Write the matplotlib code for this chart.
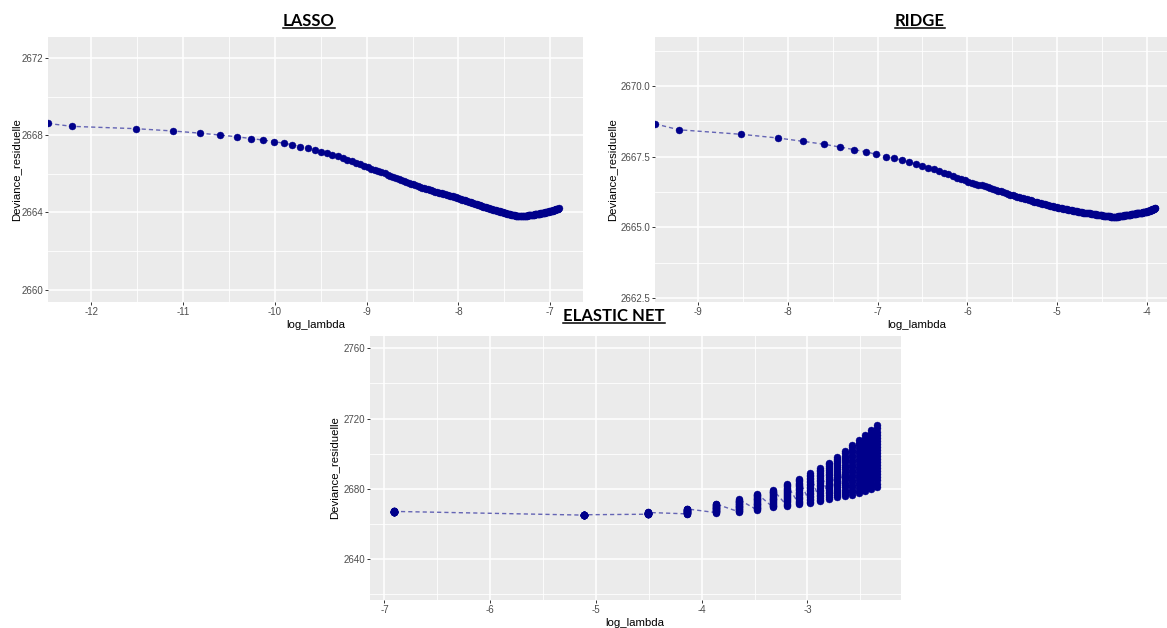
import numpy as np
import matplotlib.pyplot as plt
from matplotlib.lines import Line2D
from matplotlib.ticker import FixedLocator, FuncFormatter

# lambda grids of the three fits (first lasso/ridge value is lambda = 0 -> log = -Inf)
lasso_lambda = np.linspace(0, 0.001, 201)
ridge_lambda = np.linspace(0, 0.02, 201)
enet_lambda = [0.001, 0.006, 0.011, 0.016, 0.021, 0.026, 0.031, 0.036, 0.041, 0.046,
               0.051, 0.056, 0.061, 0.066, 0.071, 0.076, 0.081, 0.086, 0.091, 0.096]

lasso_dev = [
    2668.61, 2668.46, 2668.34, 2668.22, 2668.11, 2668.01, 2667.92, 2667.83, 2667.75, 2667.67,
    2667.59, 2667.50, 2667.41, 2667.32, 2667.23, 2667.14, 2667.06, 2666.98, 2666.90, 2666.82,
    2666.74, 2666.66, 2666.58, 2666.50, 2666.42, 2666.34, 2666.27, 2666.20, 2666.14, 2666.08,
    2666.02, 2665.96, 2665.90, 2665.84, 2665.79, 2665.74, 2665.69, 2665.64, 2665.59, 2665.54,
    2665.49, 2665.45, 2665.41, 2665.37, 2665.33, 2665.29, 2665.26, 2665.23, 2665.20, 2665.17,
    2665.14, 2665.11, 2665.08, 2665.06, 2665.03, 2665.01, 2664.99, 2664.96, 2664.94, 2664.92,
    2664.89, 2664.87, 2664.85, 2664.83, 2664.80, 2664.78, 2664.76, 2664.73, 2664.71, 2664.69,
    2664.67, 2664.65, 2664.62, 2664.60, 2664.58, 2664.56, 2664.54, 2664.52, 2664.50, 2664.48,
    2664.46, 2664.44, 2664.42, 2664.40, 2664.38, 2664.36, 2664.34, 2664.32, 2664.30, 2664.29,
    2664.27, 2664.26, 2664.24, 2664.23, 2664.21, 2664.20, 2664.18, 2664.17, 2664.15, 2664.14,
    2664.12, 2664.11, 2664.09, 2664.08, 2664.07, 2664.05, 2664.04, 2664.03, 2664.01, 2664.00,
    2663.99, 2663.98, 2663.96, 2663.95, 2663.94, 2663.93, 2663.92, 2663.91, 2663.90, 2663.89,
    2663.88, 2663.87, 2663.86, 2663.86, 2663.85, 2663.84, 2663.84, 2663.83, 2663.83, 2663.83,
    2663.82, 2663.82, 2663.82, 2663.82, 2663.82, 2663.82, 2663.83, 2663.83, 2663.83, 2663.83,
    2663.84, 2663.84, 2663.84, 2663.85, 2663.85, 2663.85, 2663.86, 2663.86, 2663.87, 2663.87,
    2663.88, 2663.88, 2663.89, 2663.89, 2663.90, 2663.90, 2663.91, 2663.91, 2663.92, 2663.92,
    2663.93, 2663.93, 2663.94, 2663.94, 2663.95, 2663.95, 2663.96, 2663.96, 2663.97, 2663.98,
    2663.98, 2663.99, 2663.99, 2664.00, 2664.01, 2664.01, 2664.02, 2664.03, 2664.03, 2664.04,
    2664.05, 2664.05, 2664.06, 2664.07, 2664.08, 2664.08, 2664.09, 2664.10, 2664.11, 2664.12,
    2664.12, 2664.13, 2664.14, 2664.15, 2664.16, 2664.16, 2664.17, 2664.18, 2664.19, 2664.20,
    2664.21]

ridge_dev = [
    2668.66, 2668.45, 2668.29, 2668.16, 2668.04, 2667.94, 2667.84, 2667.75, 2667.67, 2667.58,
    2667.50, 2667.44, 2667.37, 2667.30, 2667.24, 2667.17, 2667.11, 2667.05, 2666.99, 2666.93,
    2666.87, 2666.81, 2666.76, 2666.71, 2666.66, 2666.61, 2666.58, 2666.54, 2666.51, 2666.48,
    2666.45, 2666.42, 2666.39, 2666.36, 2666.33, 2666.30, 2666.27, 2666.24, 2666.22, 2666.19,
    2666.16, 2666.13, 2666.11, 2666.09, 2666.07, 2666.05, 2666.03, 2666.01, 2665.99, 2665.97,
    2665.95, 2665.93, 2665.91, 2665.89, 2665.88, 2665.86, 2665.85, 2665.84, 2665.82, 2665.81,
    2665.80, 2665.78, 2665.77, 2665.76, 2665.75, 2665.73, 2665.72, 2665.71, 2665.70, 2665.69,
    2665.68, 2665.67, 2665.66, 2665.66, 2665.65, 2665.64, 2665.63, 2665.62, 2665.61, 2665.60,
    2665.59, 2665.58, 2665.58, 2665.57, 2665.56, 2665.55, 2665.54, 2665.54, 2665.53, 2665.53,
    2665.52, 2665.52, 2665.51, 2665.51, 2665.50, 2665.50, 2665.49, 2665.49, 2665.48, 2665.48,
    2665.47, 2665.47, 2665.46, 2665.46, 2665.45, 2665.45, 2665.44, 2665.44, 2665.43, 2665.43,
    2665.42, 2665.42, 2665.41, 2665.41, 2665.41, 2665.40, 2665.40, 2665.40, 2665.39, 2665.39,
    2665.39, 2665.39, 2665.38, 2665.38, 2665.38, 2665.38, 2665.38, 2665.38, 2665.38, 2665.38,
    2665.38, 2665.38, 2665.38, 2665.39, 2665.39, 2665.39, 2665.39, 2665.40, 2665.40, 2665.40,
    2665.41, 2665.41, 2665.42, 2665.42, 2665.43, 2665.43, 2665.43, 2665.44, 2665.44, 2665.44,
    2665.45, 2665.45, 2665.45, 2665.46, 2665.46, 2665.46, 2665.47, 2665.47, 2665.47, 2665.48,
    2665.48, 2665.48, 2665.49, 2665.49, 2665.49, 2665.50, 2665.50, 2665.50, 2665.51, 2665.51,
    2665.51, 2665.52, 2665.52, 2665.52, 2665.53, 2665.53, 2665.53, 2665.54, 2665.54, 2665.54,
    2665.55, 2665.55, 2665.55, 2665.56, 2665.57, 2665.57, 2665.58, 2665.59, 2665.59, 2665.60,
    2665.61, 2665.62, 2665.62, 2665.63, 2665.64, 2665.64, 2665.65, 2665.66, 2665.66, 2665.67,
    2665.68]

# elastic net: one row per lambda, alpha from 0 to 1 by 0.05 inside each row
enet_dev = [
    [2667.0, 2667.0, 2667.0, 2667.0, 2667.0, 2667.1, 2667.1, 2667.1, 2667.1, 2667.1, 2667.1,
     2667.1, 2667.1, 2667.1, 2667.1, 2667.2, 2667.2, 2667.2, 2667.2, 2667.2, 2667.2],
    [2665.1, 2665.1, 2665.1, 2665.1, 2665.1, 2665.2, 2665.2, 2665.2, 2665.2, 2665.2, 2665.2,
     2665.2, 2665.2, 2665.2, 2665.2, 2665.3, 2665.3, 2665.3, 2665.3, 2665.3, 2665.3],
    [2665.6, 2665.7, 2665.7, 2665.8, 2665.8, 2665.9, 2665.9, 2666.0, 2666.0, 2666.1, 2666.1,
     2666.2, 2666.2, 2666.3, 2666.3, 2666.4, 2666.4, 2666.5, 2666.5, 2666.6, 2666.6],
    [2665.8, 2665.9, 2666.1, 2666.2, 2666.4, 2666.5, 2666.6, 2666.8, 2666.9, 2667.1, 2667.2,
     2667.3, 2667.5, 2667.6, 2667.8, 2667.9, 2668.0, 2668.2, 2668.3, 2668.5, 2668.6],
    [2666.5, 2666.7, 2667.0, 2667.2, 2667.5, 2667.7, 2668.0, 2668.2, 2668.5, 2668.7, 2669.0,
     2669.2, 2669.4, 2669.7, 2669.9, 2670.2, 2670.4, 2670.7, 2670.9, 2671.2, 2671.4],
    [2667.0, 2667.4, 2667.7, 2668.1, 2668.4, 2668.8, 2669.1, 2669.5, 2669.8, 2670.2, 2670.5,
     2670.9, 2671.2, 2671.6, 2671.9, 2672.3, 2672.6, 2673.0, 2673.3, 2673.7, 2674.0],
    [2668.0, 2668.5, 2668.9, 2669.4, 2669.8, 2670.3, 2670.8, 2671.2, 2671.7, 2672.1, 2672.6,
     2673.1, 2673.5, 2674.0, 2674.4, 2674.9, 2675.4, 2675.8, 2676.3, 2676.7, 2677.2],
    [2669.5, 2670.0, 2670.5, 2671.0, 2671.5, 2672.0, 2672.5, 2673.0, 2673.5, 2674.0, 2674.5,
     2675.0, 2675.5, 2676.0, 2676.5, 2677.0, 2677.5, 2678.0, 2678.5, 2679.0, 2679.5],
    [2670.5, 2671.1, 2671.7, 2672.3, 2672.9, 2673.5, 2674.1, 2674.7, 2675.3, 2675.9, 2676.6,
     2677.2, 2677.8, 2678.4, 2679.0, 2679.6, 2680.2, 2680.8, 2681.4, 2682.0, 2682.6],
    [2671.2, 2671.9, 2672.7, 2673.4, 2674.1, 2674.9, 2675.6, 2676.3, 2677.0, 2677.8, 2678.5,
     2679.2, 2680.0, 2680.7, 2681.4, 2682.2, 2682.9, 2683.6, 2684.3, 2685.1, 2685.8],
    [2671.9, 2672.7, 2673.6, 2674.4, 2675.3, 2676.1, 2677.0, 2677.8, 2678.7, 2679.5, 2680.4,
     2681.2, 2682.0, 2682.9, 2683.7, 2684.6, 2685.4, 2686.3, 2687.1, 2688.0, 2688.8],
    [2673.0, 2673.9, 2674.9, 2675.8, 2676.8, 2677.7, 2678.7, 2679.6, 2680.6, 2681.5, 2682.5,
     2683.4, 2684.3, 2685.3, 2686.2, 2687.2, 2688.1, 2689.1, 2690.0, 2691.0, 2691.9],
    [2674.3, 2675.3, 2676.4, 2677.4, 2678.4, 2679.5, 2680.5, 2681.5, 2682.5, 2683.6, 2684.6,
     2685.6, 2686.7, 2687.7, 2688.7, 2689.8, 2690.8, 2691.8, 2692.8, 2693.9, 2694.9],
    [2675.2, 2676.4, 2677.5, 2678.7, 2679.8, 2681.0, 2682.1, 2683.3, 2684.4, 2685.6, 2686.8,
     2687.9, 2689.1, 2690.2, 2691.4, 2692.5, 2693.7, 2694.8, 2696.0, 2697.1, 2698.3],
    [2675.7, 2677.0, 2678.3, 2679.6, 2680.9, 2682.2, 2683.5, 2684.8, 2686.1, 2687.4, 2688.7,
     2689.9, 2691.2, 2692.5, 2693.8, 2695.1, 2696.4, 2697.7, 2699.0, 2700.3, 2701.6],
    [2676.8, 2678.2, 2679.6, 2681.0, 2682.4, 2683.9, 2685.3, 2686.7, 2688.1, 2689.5, 2690.9,
     2692.3, 2693.7, 2695.1, 2696.5, 2698.0, 2699.4, 2700.8, 2702.2, 2703.6, 2705.0],
    [2677.5, 2679.0, 2680.5, 2682.0, 2683.6, 2685.1, 2686.6, 2688.1, 2689.6, 2691.1, 2692.7,
     2694.2, 2695.7, 2697.2, 2698.7, 2700.2, 2701.7, 2703.3, 2704.8, 2706.3, 2707.8],
    [2678.7, 2680.3, 2681.9, 2683.5, 2685.1, 2686.7, 2688.3, 2689.9, 2691.5, 2693.1, 2694.8,
     2696.4, 2698.0, 2699.6, 2701.2, 2702.8, 2704.4, 2706.0, 2707.6, 2709.2, 2710.8],
    [2680.0, 2681.7, 2683.4, 2685.0, 2686.7, 2688.4, 2690.1, 2691.7, 2693.4, 2695.1, 2696.8,
     2698.4, 2700.1, 2701.8, 2703.5, 2705.1, 2706.8, 2708.5, 2710.2, 2711.8, 2713.5],
    [2681.3, 2683.0, 2684.8, 2686.5, 2688.3, 2690.0, 2691.7, 2693.5, 2695.2, 2697.0, 2698.7,
     2700.4, 2702.2, 2703.9, 2705.7, 2707.4, 2709.1, 2710.9, 2712.6, 2714.4, 2716.1],
]

W, H = 1167, 628
fig = plt.figure(figsize=(W / 100, H / 100), dpi=100)
fig.patch.set_facecolor('white')

TICK_FONT = 'Liberation Sans'
POINT_COL = '#00008B'
LINE_COL = '#6464b4'


def add_panel(left, top, right, bottom):
    return fig.add_axes([left / W, 1 - bottom / H, (right - left) / W, (bottom - top) / H])


def style_panel(ax, xlim, ylim, xmaj, xmin, ymaj, ymin, yfmt):
    ax.set_facecolor('#EBEBEB')
    for s in ax.spines.values():
        s.set_visible(False)
    ax.set_xlim(xlim)
    ax.set_ylim(ylim)
    ax.xaxis.set_major_locator(FixedLocator(xmaj))
    ax.xaxis.set_minor_locator(FixedLocator(xmin))
    ax.yaxis.set_major_locator(FixedLocator(ymaj))
    ax.yaxis.set_minor_locator(FixedLocator(ymin))
    ax.xaxis.set_major_formatter(FuncFormatter(lambda v, p: '%d' % v))
    ax.yaxis.set_major_formatter(FuncFormatter(lambda v, p: yfmt % v))
    ax.grid(which='major', color='white', lw=1.1)
    ax.grid(which='minor', color='white', lw=0.6)
    ax.set_axisbelow(True)
    ax.tick_params(which='major', length=2.2, width=0.7, color='#333333',
                   labelsize=7, labelcolor='#4D4D4D', pad=1.5)
    ax.tick_params(which='minor', length=0)
    for lab in ax.get_xticklabels() + ax.get_yticklabels():
        lab.set_fontfamily(TICK_FONT)


def draw_series(ax, x, y, xlim):
    x = np.where(np.isneginf(x), xlim[0], x)
    ax.plot(x, y, ls=(0, (3.0, 2.2)), color=LINE_COL, lw=1.0, zorder=2)
    ax.plot(x, y, 'o', color=POINT_COL, ms=5.0, mec=POINT_COL, mew=0.3, zorder=3)


with np.errstate(divide='ignore'):
    lasso_x = np.log(lasso_lambda)
    ridge_x = np.log(ridge_lambda)

# LASSO
ax1 = add_panel(48, 37, 583, 302)
xl1 = (-12.471, -6.643)
style_panel(ax1, xl1, (2659.36, 2673.09),
            [-12, -11, -10, -9, -8, -7], [-11.5, -10.5, -9.5, -8.5, -7.5],
            [2660, 2664, 2668, 2672], [2662, 2666, 2670], '%d')
draw_series(ax1, lasso_x, lasso_dev, xl1)

# RIDGE
ax2 = add_panel(655, 37, 1179, 302)
xl2 = (-9.475, -3.647)
style_panel(ax2, xl2, (2662.36, 2671.73),
            [-9, -8, -7, -6, -5, -4], [-8.5, -7.5, -6.5, -5.5, -4.5],
            [2662.5, 2665.0, 2667.5, 2670.0], [2663.75, 2666.25, 2668.75, 2671.25], '%.1f')
draw_series(ax2, ridge_x, ridge_dev, xl2)

# ELASTIC NET
ax3 = add_panel(370, 336, 901, 600)
xl3 = (-7.136, -2.115)
style_panel(ax3, xl3, (2616.8, 2767.0),
            [-7, -6, -5, -4, -3], [-6.5, -5.5, -4.5, -3.5, -2.5],
            [2640, 2680, 2720, 2760], [2620, 2660, 2700, 2740], '%d')
enet_x = np.log(np.repeat(enet_lambda, [len(r) for r in enet_dev]))
enet_y = np.concatenate(enet_dev)
draw_series(ax3, enet_x, enet_y, xl3)

# axis titles
lab_kw = dict(fontsize=8.2, family=TICK_FONT, color='black', ha='center', va='center')
for (cx, cy) in [(316, 325), (917, 325), (635, 623)]:
    fig.text(cx / W, 1 - cy / H, 'log_lambda', **lab_kw)
for (cx, cy) in [(16, 169.5), (612, 169.5), (334.5, 468)]:
    fig.text(cx / W, 1 - cy / H, 'Deviance_residuelle', rotation=90, **lab_kw)

# panel titles, bold and underlined
titles = []
for (txt, cx, cy) in [('LASSO', 308.6, 20.5), ('RIDGE', 920, 20.5), ('ELASTIC NET', 614, 316)]:
    titles.append(fig.text(cx / W, 1 - cy / H, txt, fontsize=12, fontweight='bold',
                           family='Lato', ha='center', va='center', color='black'))

fig.canvas.draw()
rend = fig.canvas.get_renderer()
for t in titles:
    bb = t.get_window_extent(rend)
    y = (bb.y0 + 1.0) / H
    fig.add_artist(Line2D([bb.x0 / W, bb.x1 / W], [y, y], transform=fig.transFigure,
                          color='black', lw=1.1))

fig.savefig('out.png', dpi=100)
